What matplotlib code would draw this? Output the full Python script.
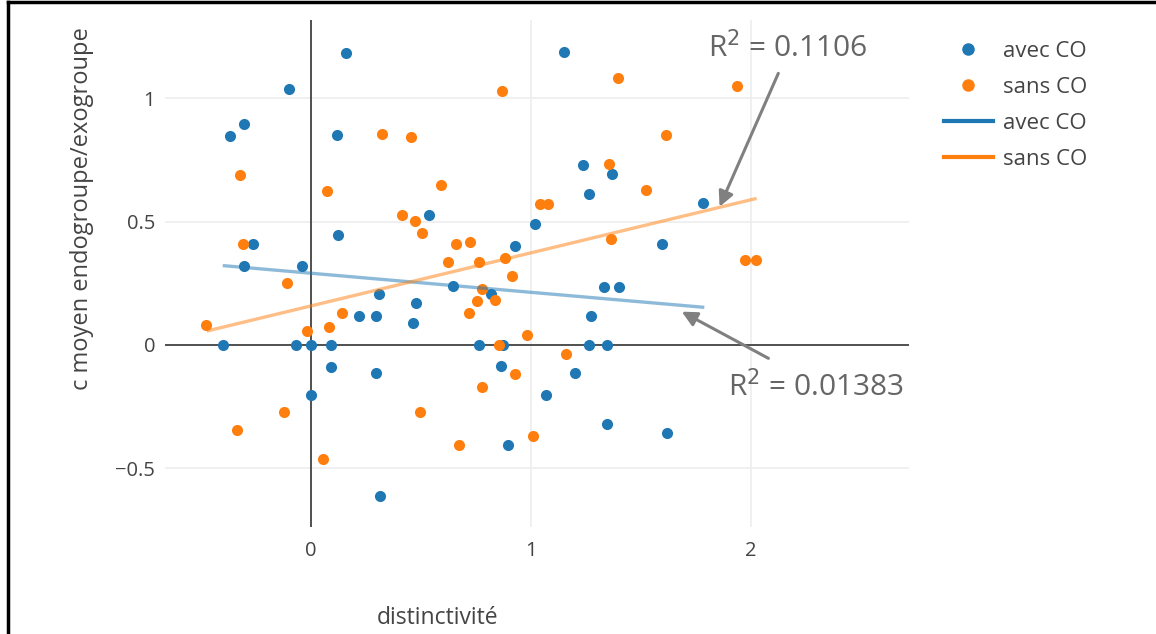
import matplotlib.pyplot as plt
from matplotlib.lines import Line2D
import numpy as np

plt.rcParams['font.family'] = ['Open Sans', 'DejaVu Sans']

# avec CO points
avec_x = [0.158, 1.151, -0.099, -0.306, -0.368, 0.117, 1.238, 0.535, 0.123, -0.262,
          1.020, 0.929, -0.306, -0.041, 0.647, 0.818, 0.311, 0.476, 0.218, 0.294,
          0.464, 1.368, 1.264, 1.780, 1.597, 1.330, 1.401, 1.273, -0.400, -0.067,
          0.000, 0.091, 0.764, 0.871, 0.091, 0.295, 0.000, 0.862, 1.070, 1.201,
          0.897, 0.315, 1.265, 1.345, 1.345, 1.618]
avec_y = [1.183, 1.187, 1.035, 0.895, 0.847, 0.849, 0.727, 0.525, 0.445, 0.408,
          0.491, 0.401, 0.318, 0.318, 0.240, 0.205, 0.206, 0.169, 0.119, 0.119,
          0.090, 0.692, 0.611, 0.576, 0.409, 0.235, 0.235, 0.117, 0.0, 0.0,
          0.0, 0.0, 0.0, 0.0, -0.090, -0.112, -0.202, -0.085, -0.202, -0.115,
          -0.403, -0.610, 0.0, 0.0, -0.319, -0.355]

# sans CO points
sans_x = [0.870, 0.324, 0.455, -0.324, 0.073, 0.589, 1.041, 1.077, 0.415, 0.474,
          0.503, -0.309, 0.658, 0.724, 0.621, 0.765, 0.880, 0.914, -0.109, 0.776,
          0.753, 0.835, 0.720, 0.139, -0.476, 0.083, -0.020, 0.983, 1.394, 1.935,
          1.614, 1.353, 1.521, 1.364, 1.973, 2.023, 0.852, 1.159, 0.927, 0.779,
          0.497, -0.121, -0.338, 0.674, 1.011, 0.053]
sans_y = [1.030, 0.856, 0.843, 0.690, 0.623, 0.646, 0.572, 0.572, 0.526, 0.502,
          0.455, 0.408, 0.408, 0.416, 0.336, 0.336, 0.353, 0.278, 0.250, 0.228,
          0.178, 0.181, 0.131, 0.131, 0.081, 0.072, 0.058, 0.040, 1.080, 1.049,
          0.849, 0.732, 0.629, 0.429, 0.344, 0.344, 0.0, -0.038, -0.116, -0.169,
          -0.273, -0.273, -0.344, -0.403, -0.370, -0.463]

# trend line endpoints
trend_avec_x = [-0.394, 1.780]
trend_avec_y = [0.321, 0.153]
trend_sans_x = [-0.467, 2.018]
trend_sans_y = [0.058, 0.592]

blue = '#1f77b4'
orange = '#ff7f0e'
grey = '#444444'

fig = plt.figure(figsize=(11.56, 6.34), dpi=100)
ax = fig.add_axes([165 / 1156, 1 - 527 / 634, (909 - 165) / 1156, (527 - 20) / 634])
ax.set_xlim(-0.664, 2.718)
ax.set_ylim(-0.737, 1.316)

for s in ax.spines.values():
    s.set_visible(False)
ax.set_xticks([0, 1, 2])
ax.set_yticks([-0.5, 0, 0.5, 1])
ax.set_xticklabels(['0', '1', '2'])
ax.set_yticklabels(['\u22120.5', '0', '0.5', '1'])
ax.tick_params(length=0, labelsize=14.5, colors=grey, pad=7)
ax.tick_params(axis='x', pad=10)
ax.grid(True, color='#eeeeee', linewidth=1.2)
ax.set_axisbelow(True)
ax.axhline(0, color=grey, linewidth=1.3, zorder=1)
ax.axvline(0, color=grey, linewidth=1.3, zorder=1)

ax.scatter(avec_x, avec_y, s=64, color=blue, zorder=3, linewidths=0)
ax.scatter(sans_x, sans_y, s=64, color=orange, zorder=3, linewidths=0)
ax.plot(trend_avec_x, trend_avec_y, color=blue, alpha=0.5, linewidth=2.4, zorder=4)
ax.plot(trend_sans_x, trend_sans_y, color=orange, alpha=0.5, linewidth=2.4, zorder=4)

arrow = dict(arrowstyle='-|>,head_length=0.9,head_width=0.45', color='#808080',
             linewidth=2.2, shrinkA=0, shrinkB=0)
ax.annotate('', xy=(1.857, 0.560), xytext=(2.124, 1.100), arrowprops=arrow,
            annotation_clip=False)
ax.text(2.166, 1.202, 'R$^2$ = 0.1106', ha='center', va='center', fontsize=21.5,
        color='#666666')
ax.annotate('', xy=(1.685, 0.135), xytext=(2.079, -0.054), arrowprops=arrow,
            annotation_clip=False)
ax.text(2.293, -0.169, 'R$^2$ = 0.01383', ha='center', va='center', fontsize=21.5,
        color='#666666')

fig.text(82 / 1156, 1 - 209 / 634, 'c moyen endogroupe/exogroupe', rotation=90,
         ha='center', va='center', fontsize=17, color=grey)
fig.text(438 / 1156, 1 - 618 / 634, 'distinctivité', ha='center', va='center',
         fontsize=16.5, color=grey)

handles = [
    Line2D([], [], linestyle='none', marker='o', markersize=8, color=blue),
    Line2D([], [], linestyle='none', marker='o', markersize=8, color=orange),
    Line2D([], [], color=blue, linewidth=3),
    Line2D([], [], color=orange, linewidth=3),
]
labels = ['avec CO', 'sans CO', 'avec CO', 'sans CO']
fig.legend(handles, labels, loc='upper left', bbox_to_anchor=(935 / 1156, 1 - 32 / 634),
           frameon=False, fontsize=16, labelcolor=grey, handlelength=2.2,
           handletextpad=0.45, labelspacing=0.68, borderaxespad=0)

# image frame (top and left)
fig.add_artist(Line2D([8 / 1156, 8 / 1156], [0, 1 - 2 / 634], color='black', linewidth=2.5))
fig.add_artist(Line2D([8 / 1156, 1], [1 - 2 / 634, 1 - 2 / 634], color='black', linewidth=2.5))

fig.savefig('out.png', dpi=100, facecolor='white')
